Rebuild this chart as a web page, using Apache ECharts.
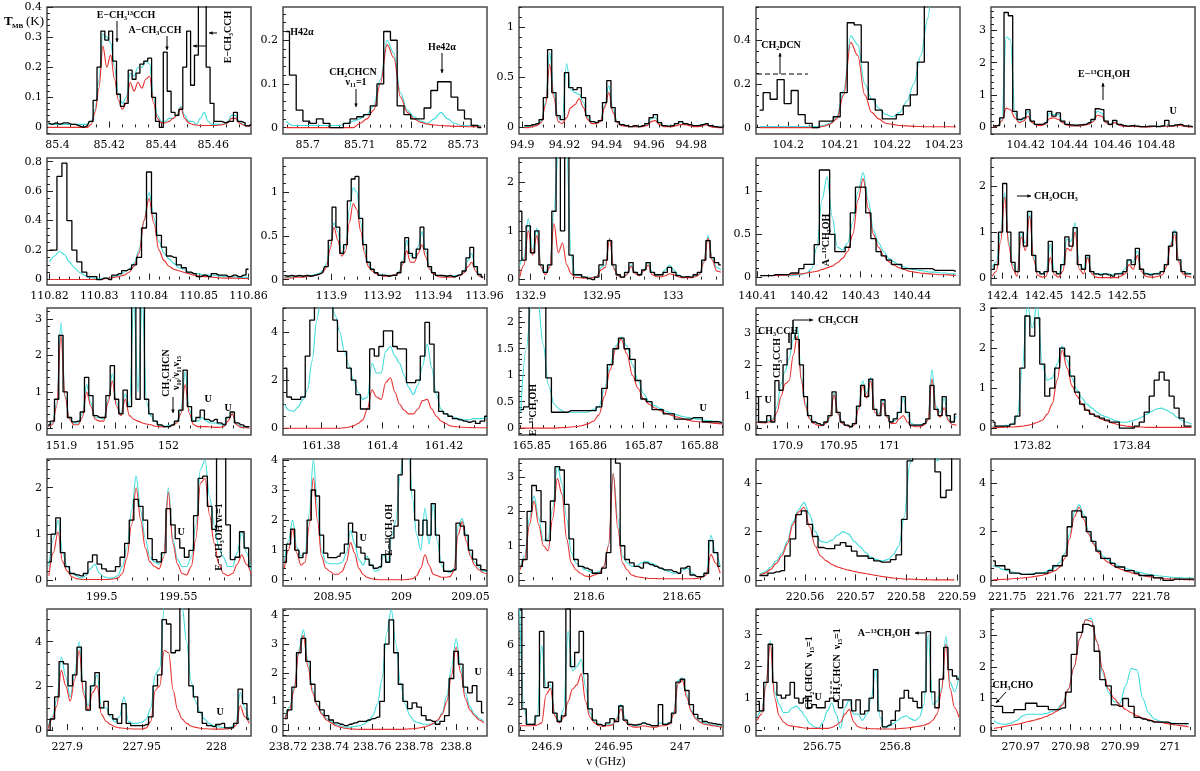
<!DOCTYPE html>
<html>
<head>
<meta charset="utf-8">
<script src="https://cdn.jsdelivr.net/npm/echarts@6/dist/echarts.min.js"></script>
<style>
  html, body { margin: 0; padding: 0; background: #fff; }
  #chart { width: 1200px; height: 771px; }
</style>
</head>
<body>
<div id="chart"></div>
<script>
// channel grids: [first channel frequency (GHz), channel step (GHz)]
// obs = observed spectrum (black), cyan = full model, red = single-species model
const freq1 = [85.3965, 0.0015];
const obs1 = [.015,.01,.015,.01,.015,.015,.01,.01,.005,0,.005,.02,.09,.2,.32,.29,.32,.22,.11,.07,.08,.19,.16,.18,.21,.22,.23,.1,.02,0,.25,.12,.05,.04,.06,.2,.32,.14,.24,.45,.45,.2,.08,.02,.02,.015,.02,.02,.05,.02,.015,.005,.01];
const cyan1 = [.01,.01,.01,.01,.01,.01,.01,.01,.01,.01,.01,.02,.06,.16,.31,.3,.28,.2,.11,.08,.1,.18,.17,.2,.2,.22,.21,.1,.04,.02,.02,.03,.03,.04,.07,.04,.02,.02,.01,.03,.05,.02,.01,.01,.01,.01,.02,.04,.04,.02,.01,.005,.005];
const red1 = [0,0,0,0,0,0,0,0,0,0,0,.01,.05,.13,.27,.2,.24,.16,.09,.06,.08,.15,.12,.15,.13,.16,.17,.08,.03,.015,.015,.02,.03,.04,.065,.03,.015,.01,.008,.006,.006,.006,.006,.006,.008,.01,.015,.03,.03,.015,.008,.005,.005];
const xt1 = [85.4,85.42,85.44,85.46], yt1 = [0,0.1,0.2,0.3,0.4];

const freq2 = [85.6958, 0.0013];
const obs2 = [.22,.12,.04,.015,.01,.02,.01,0,0,.01,.02,.025,.03,.05,.1,.22,.2,.05,.03,.02,.02,.045,.085,.105,.105,.07,.04,.02,.005,0];
const cyan2 = [.015,.005,.005,.005,.005,.005,.005,.005,.005,.01,.015,.02,.03,.05,.11,.2,.17,.08,.04,.025,.015,.01,.02,.035,.02,.01,.005,.005,.005,.005];
const red2 = [0,0,0,0,0,0,0,0,0,0,0,.01,.02,.04,.1,.19,.16,.07,.035,.02,.012,.008,.006,.005,.004,.003,.003,.002,.002,.002];
const xt2 = [85.7,85.71,85.72,85.73], yt2 = [0,0.1,0.2];

const freq3 = [94.901, 0.002];
const obs3 = [.02,.02,.03,.04,.08,.3,.78,.35,.12,.08,.55,.4,.38,.4,.3,.12,.06,.05,.07,.25,.47,.2,.06,.03,.02,.01,.02,.01,.02,.04,.1,.13,.05,.02,.015,.02,.04,.06,.04,.03,.02,.02,.03,.04,.02,.01,.005,.005];
const cyan3 = [.01,.01,.02,.03,.07,.25,.75,.35,.1,.08,.64,.38,.35,.33,.25,.1,.06,.05,.07,.22,.42,.18,.06,.03,.02,.01,.01,.01,.015,.03,.09,.1,.05,.02,.01,.02,.04,.06,.04,.03,.02,.02,.03,.04,.02,.01,.005,.005];
const red3 = [0,0,.01,.02,.05,.22,.63,.3,.06,.04,.1,.2,.23,.29,.2,.08,.04,.04,.06,.2,.35,.15,.05,.02,.015,.01,.01,.01,.01,.02,.06,.07,.03,.01,.01,.01,.02,.03,.03,.02,.01,.01,.015,.03,.01,.005,0,0];
const xt3 = [94.9,94.92,94.94,94.96,94.98], yt3 = [0,0.5,1];

const freq4 = [104.1945, 0.00135];
const obs4 = [.08,.16,.13,.22,.11,.17,.06,.02,0,.03,.03,.05,.16,.48,.47,.3,.13,.08,.04,.04,.06,.1,.15,.3,.6,.8,.8,.8,.8];
const cyan4 = [.005,.005,.005,.005,.005,.005,.005,.005,.005,.01,.02,.05,.17,.42,.38,.2,.13,.09,.06,.05,.07,.12,.2,.33,.5,.8,.8,.8,.8];
const red4 = [0,0,0,0,0,0,0,0,0,.005,.015,.04,.15,.39,.33,.15,.07,.04,.02,.015,.01,.008,.006,.005,.004,.004,.004,.004,.004];
const xt4 = [104.2,104.21,104.22,104.23], yt4 = [0,0.2,0.4];

const freq5 = [104.405, 0.002];
const obs5 = [.05,.06,.3,3.55,3.45,.5,.25,.3,.55,.2,.1,.1,.15,.5,.35,.45,.2,.1,.08,.07,.08,.1,.15,.25,.58,.55,.2,.1,.22,.1,.06,.04,.06,.04,.03,.03,.04,.04,.03,.05,.22,.05,.08,.1,.05,.04,.03];
const cyan5 = [.03,.05,.3,2.8,2.7,.45,.2,.25,.5,.18,.09,.08,.12,.45,.4,.4,.18,.08,.06,.05,.06,.08,.12,.22,.5,.45,.18,.1,.18,.08,.05,.04,.05,.04,.03,.03,.03,.04,.04,.05,.05,.05,.07,.09,.05,.03,.02];
const red5 = [.02,.05,.2,.6,.55,.3,.15,.2,.35,.15,.07,.06,.1,.28,.3,.25,.15,.07,.05,.05,.05,.07,.1,.18,.38,.35,.15,.08,.15,.07,.04,.03,.04,.03,.02,.02,.02,.03,.03,.04,.04,.04,.05,.07,.04,.02,.02];
const xt5 = [104.42,104.44,104.46,104.48], yt5 = [0,1,2,3];

const freq6 = [110.820, 0.001];
const obs6 = [.2,.2,.7,.79,.4,.2,.12,.05,.02,.02,0,.01,0,.03,.04,.06,.07,.1,.15,.35,.73,.45,.3,.22,.16,.15,.1,.08,.05,.04,.02,.03,.02,.04,.03,.03,.02,.03,.02,.03,.07];
const cyan6 = [.12,.16,.19,.17,.12,.08,.05,.03,.015,.01,.005,.01,.01,.02,.03,.05,.07,.11,.2,.4,.59,.42,.26,.18,.14,.11,.08,.07,.05,.04,.04,.03,.03,.03,.025,.02,.02,.02,.015,.015,.015];
const red6 = [0,0,0,0,0,0,0,0,0,0,0,.005,.01,.015,.02,.03,.05,.09,.18,.4,.55,.38,.2,.13,.09,.07,.06,.05,.04,.03,.025,.02,.02,.015,.012,.01,.01,.01,.008,.007,.006];
const xt6 = [110.82,110.83,110.84,110.85,110.86], yt6 = [0,0.2,0.4,0.6,0.8];

const freq7 = [113.8815, 0.0015];
const obs7 = [.05,.04,.05,.04,.05,.04,.05,.04,.05,.06,.08,.15,.45,.83,.6,.3,.4,.9,1.15,1.18,.7,.4,.2,.12,.08,.05,.05,.04,.05,.05,.08,.2,.48,.3,.25,.35,.6,.35,.15,.08,.05,.05,.04,.05,.03,.05,.06,.1,.25,.37,.15,.06,.03];
const cyan7 = [.03,.03,.03,.04,.04,.04,.05,.05,.06,.07,.1,.18,.4,.65,.55,.3,.38,.8,1.05,1.0,.65,.35,.18,.12,.08,.06,.05,.05,.05,.06,.09,.22,.45,.28,.25,.38,.55,.32,.14,.08,.05,.04,.04,.04,.04,.05,.06,.1,.22,.3,.14,.06,.03];
const red7 = [.02,.02,.02,.03,.03,.03,.04,.04,.05,.06,.08,.14,.35,.6,.45,.27,.32,.65,.87,.8,.55,.3,.15,.1,.07,.05,.04,.04,.05,.06,.08,.18,.33,.2,.2,.3,.4,.26,.12,.07,.04,.03,.03,.03,.03,.04,.05,.08,.15,.2,.1,.04,.02];
const xt7 = [113.9,113.92,113.94,113.96], yt7 = [0,0.5,1];

const freq8 = [132.8925, 0.003];
const obs8 = [1.4,.4,1.1,.55,1.0,.3,.15,.3,1.4,2.6,1.0,2.6,.5,.1,.1,.05,.02,0,.05,.3,.4,.8,.3,.1,.05,.15,.35,.15,.1,.2,.35,.15,.1,.1,.15,.25,.15,.08,.05,.06,.05,.1,.15,.4,.8,.45,.35,.3];
const cyan8 = [.3,.45,1.25,.6,1.05,.3,.15,.3,1.4,2.6,2.6,2.6,.5,.1,.08,.05,.05,.05,.07,.25,.3,.85,.25,.1,.05,.12,.3,.15,.1,.2,.35,.15,.08,.1,.2,.3,.2,.1,.06,.05,.05,.08,.12,.4,.9,.45,.25,.2];
const red8 = [.05,.3,1.0,.5,.9,.25,.1,.25,1.15,.55,.75,.3,.12,.05,.04,.03,.03,.04,.06,.2,.25,.83,.22,.08,.04,.1,.27,.12,.08,.18,.3,.1,.06,.06,.08,.12,.1,.06,.04,.04,.04,.06,.1,.35,.85,.4,.18,.15];
const xt8 = [132.9,132.95,133], yt8 = [0,1,2];

const freq9 = [140.4105, 0.001];
const obs9 = [.02,.02,.02,.03,.03,.03,.05,.05,.1,.15,.15,.38,1.25,1.25,.5,.3,.3,.35,.75,1.05,1.05,.75,.45,.3,.25,.2,.15,.15,.1,.1,.1,.1,.1,.1,.08,.08,.08,.08,.07];
const cyan9 = [.02,.02,.02,.02,.02,.02,.02,.025,.03,.05,.1,.35,.9,1.17,.7,.35,.32,.4,.65,1.0,1.22,.9,.55,.4,.3,.22,.18,.14,.12,.1,.09,.08,.07,.06,.06,.05,.05,.04,.04];
const red9 = [.02,.02,.02,.02,.025,.025,.03,.035,.04,.05,.06,.07,.09,.11,.13,.17,.22,.3,.5,.9,1.15,.8,.5,.35,.25,.18,.14,.11,.09,.07,.06,.05,.045,.04,.035,.03,.03,.025,.02];
const xt9 = [140.41,140.42,140.43,140.44], yt9 = [0,0.5,1];

const freq10 = [142.3875, 0.005];
const obs10 = [.2,.3,1.0,2.05,1.0,.35,.15,1.0,.7,1.45,.5,.15,.1,.15,.8,.15,.1,.3,.9,.7,1.1,.3,.2,.5,.15,.1,.08,.1,.08,.05,.1,.1,.15,.4,.3,.65,.2,.1,.08,.1,.1,.15,.3,.7,1.0,.4,.15,.1,.1];
const cyan10 = [.25,.35,1.0,1.85,.8,.3,.15,1.0,.75,1.45,.5,.15,.1,.15,.75,.15,.1,.3,.85,.8,1.2,.3,.2,.5,.15,.1,.1,.1,.1,.08,.1,.12,.2,.4,.35,.6,.2,.12,.1,.1,.12,.15,.3,.75,1.05,.4,.15,.12,.1];
const red10 = [.05,.15,.8,1.75,.7,.2,.05,.9,.6,1.35,.4,.07,.03,.05,.45,.08,.03,.15,.65,.6,1.0,.2,.1,.45,.1,.03,.02,.02,.02,.02,.02,.05,.1,.3,.2,.5,.15,.05,.03,.03,.05,.08,.25,.7,.95,.35,.1,.05,.03];
const xt10 = [142.4,142.45,142.5,142.55], yt10 = [0,1,2];

const freq11 = [151.8875, 0.004];
const obs11 = [.1,.2,.8,2.55,1.0,.3,.18,.2,.45,1.4,.9,.35,.3,.3,.9,1.72,.8,.4,1.05,.6,3.5,.8,3.5,.8,.4,.2,.1,.05,.05,.1,.2,.5,1.6,.6,.2,.3,.5,.25,.2,.25,.15,.1,.3,.45,.15,.1,.05,.05];
const cyan11 = [.05,.15,.7,2.9,.9,.3,.15,.15,.4,1.2,.7,.3,.3,.25,.8,1.5,.7,.4,.95,.6,3.5,1.0,3.5,.7,.35,.2,.1,.05,.08,.1,.2,.5,1.55,.5,.2,.2,.3,.2,.15,.15,.12,.1,.3,.4,.15,.05,.03,.02];
const red11 = [.05,.1,.6,2.55,.85,.25,.1,.1,.3,1.0,.6,.25,.2,.2,.7,1.3,.6,.35,.8,.35,.25,.2,.15,.12,.1,.06,.05,.04,.05,.08,.15,.4,1.2,.4,.1,.05,.05,.05,.04,.03,.03,.05,.2,.4,.1,.03,.02,.01];
const xt11 = [151.9,151.95,152], yt11 = [0,1,2,3];

const freq12 = [161.368, 0.0015];
const obs12 = [2.5,1.3,1.2,1.2,1.3,3.0,4.5,5.5,5.5,5.5,5.5,4.5,3.2,3.2,2.5,2.0,1.4,.8,.8,3.3,3.0,3.4,4.05,4.05,3.4,3.3,3.3,1.9,1.9,2.0,3.0,4.4,3.5,1.5,.7,.6,.5,.4,.35,.3,.25,.3,.2,.3,.5];
const cyan12 = [1.0,.75,.7,.9,1.2,1.6,2.8,4.5,5.5,5.5,5.3,4.7,4.0,3.2,2.6,2.0,1.5,1.2,1.3,2.7,2.3,2.3,3.2,3.4,3.0,2.7,2.2,1.7,1.4,1.8,2.6,3.5,2.5,1.4,.8,.6,.5,.45,.4,.35,.35,.4,.4,.4,.45];
const red12 = [0,0,0,0,0,0,0,0,0,0,0,0,0,.02,.05,.1,.2,.35,.8,1.6,1.3,1.2,1.9,2.1,1.5,1.0,.75,.6,.6,.8,1.15,1.2,.8,.5,.3,.2,.1,.07,.05,.04,.03,.02,.02,.02,.02];
const xt12 = [161.38,161.4,161.42], yt12 = [0,2,4];

const freq13 = [165.848, 0.001];
const obs13 = [.35,.4,2.5,2.5,2.5,.95,.3,.3,.3,.33,.33,.33,.33,.33,.4,.75,1.2,1.5,1.7,1.5,1.3,.9,.55,.5,.35,.35,.27,.27,.17,.17,.17,.2,.2,.12,.12,.12,.1];
const cyan13 = [.3,1.5,2.5,2.5,1.6,.8,.45,.35,.3,.3,.3,.3,.3,.35,.4,.75,1.2,1.55,1.72,1.55,1.2,.9,.65,.5,.42,.37,.32,.28,.25,.22,.2,.18,.17,.15,.14,.13,.12];
const red13 = [0,0,0,0,0,0,0,.01,.01,.02,.03,.05,.08,.13,.25,.6,1.1,1.5,1.68,1.4,1.0,.75,.55,.45,.38,.33,.28,.24,.21,.18,.15,.13,.12,.11,.1,.09,.08];
const xt13 = [165.85,165.86,165.87,165.88], yt13 = [0,0.5,1,1.5,2];

const freq14 = [170.8695, 0.004];
const obs14 = [1.0,.2,.2,.4,.2,1.5,1.2,2.0,2.5,3.0,2.8,2.0,1.0,.4,.2,.15,.1,.2,.4,1.15,.5,.2,.1,.05,.15,.7,1.35,1.0,1.55,.6,.4,.9,.4,.2,.3,.5,1.0,.5,.1,.1,.1,.15,.3,1.35,.6,.4,1.0,.4,.2,.45];
const cyan14 = [.25,.2,.2,.25,.3,.7,1.4,1.8,2.2,2.8,3.2,1.6,.8,.35,.2,.15,.1,.2,.4,1.1,.5,.2,.1,.05,.15,.7,1.5,1.1,1.6,.6,.45,.9,.4,.2,.25,.5,.95,.45,.15,.1,.1,.15,.3,1.85,.7,.5,.95,.3,.2,.4];
const red14 = [.2,.18,.17,.2,.25,.5,1.0,1.4,1.5,2.3,2.9,1.5,.7,.3,.15,.1,.08,.15,.35,1.05,.45,.15,.08,.05,.1,.6,1.35,.95,1.5,.5,.4,.8,.35,.15,.15,.3,.4,.2,.08,.05,.05,.1,.25,1.55,.6,.35,.65,.25,.12,.1];
const xt14 = [170.9,170.95,171], yt14 = [0,1,2,3];

const freq15 = [173.812, 0.001];
const obs15 = [.15,.05,.05,.05,.1,.3,1.5,2.8,2.3,2.75,1.6,.8,1.0,1.5,2.0,1.8,1.3,.9,.6,.45,.35,.3,.25,.2,.15,.15,0,0,0,.05,.15,.4,.8,1.2,1.4,1.2,.8,.5,.25,.05,.05];
const cyan15 = [.05,.05,.06,.07,.1,.3,1.5,3.1,2.5,3.1,1.6,1.2,1.25,1.6,2.05,1.7,1.25,.95,.75,.6,.5,.4,.32,.28,.22,.18,.15,.15,.18,.22,.28,.35,.42,.48,.5,.45,.38,.28,.2,.15,.1];
const red15 = [.02,.02,.02,.03,.03,.04,.05,.07,.1,.15,.2,.35,.6,1.2,1.95,1.5,1.05,.8,.6,.45,.35,.28,.22,.18,.13,.1,.07,.05,.04,.03,.03,.02,.02,.02,.02,.02,.02,.02,.02,.02,.02];
const xt15 = [173.82,173.84], yt15 = [0,1,2,3];

const freq16 = [199.4655, 0.003];
const obs16 = [.4,1.0,1.35,.6,.3,.15,.12,.1,.15,.4,.55,.35,.25,.2,.2,.3,.5,.8,1.3,1.75,1.6,1.3,.9,.45,.4,.6,1.55,1.2,.9,.7,.5,.65,1.4,2.2,2.25,1.6,1.1,2.7,2.7,1.2,.45,.5,1.05,.7,.3];
const cyan16 = [.3,.9,1.3,.6,.3,.15,.1,.05,.1,.25,.35,.15,.08,.05,.05,.1,.3,.7,1.5,2.25,1.5,.9,.5,.4,.35,.6,2.0,.9,.45,.3,.3,.5,1.2,2.4,2.6,1.8,1.2,.7,.5,.3,.3,.6,1.05,.6,.2];
const red16 = [.1,.6,1.05,.4,.2,.08,.04,.02,.02,.02,.02,.02,.02,.02,.03,.05,.15,.5,1.2,2.0,1.3,.7,.4,.3,.25,.5,1.9,.8,.35,.15,.12,.3,.9,2.1,2.2,1.4,.8,.35,.15,.1,.15,.35,.55,.35,.15];
const xt16 = [199.5,199.55], yt16 = [0,1,2];

const freq17 = [208.915, 0.003];
const obs17 = [.6,1.2,1.7,1.0,.75,.9,2.0,3.0,2.8,1.5,.9,.75,.75,.8,.9,1.2,1.9,1.6,1.1,.9,.7,.5,.4,.45,.85,.6,1.4,1.8,3.5,4.5,4.5,3.0,2.0,1.5,2.0,1.5,2.55,1.5,.6,.3,.3,.35,1.9,1.8,1.5,1.0,.7,.5,.35,.3];
const cyan17 = [.6,1.3,2.0,1.1,.8,.9,2.2,4.0,2.5,1.0,.6,.55,.55,.55,.6,.9,1.65,1.2,.7,.5,.8,.5,.3,.35,.85,.6,1.5,2.0,3.5,4.5,4.5,2.7,1.5,1.0,2.4,1.2,2.55,1.3,.5,.3,.25,.4,1.8,2.05,1.5,.9,.6,.45,.3,.3];
const red17 = [.4,1.0,1.7,.9,.5,.6,1.8,3.4,2.0,.8,.4,.3,.2,.2,.3,.6,1.25,.9,.4,.2,.1,.05,.03,.02,.02,.02,.02,.02,.02,.02,.03,.05,.15,.4,.85,.5,.2,.15,.1,.1,.12,.3,1.5,1.95,1.3,.8,.5,.35,.25,.2];
const xt17 = [208.95,209,209.05], yt17 = [0,1,2,3,4];

const freq18 = [218.563, 0.0025];
const obs18 = [.4,.6,2.0,2.75,2.6,1.7,1.15,2.3,3.3,3.2,2.2,1.2,.6,.4,.35,.3,.2,.2,.35,.8,3.65,3.4,1.0,.6,.5,.4,.35,.5,.45,.4,.35,.3,.3,.25,.2,.35,.4,.15,.1,.1,.2,1.15,.8,.4];
const cyan18 = [.35,.7,1.8,2.45,1.8,1.15,1.2,2.1,3.3,2.8,1.8,.8,.5,.4,.3,.25,.2,.25,.4,1.0,3.1,1.8,.7,.5,.4,.4,.5,.55,.5,.45,.35,.3,.25,.2,.2,.3,.35,.2,.1,.1,.2,1.3,.8,.4];
const red18 = [.3,.6,1.6,2.3,1.6,1.0,.85,1.8,2.95,2.5,1.2,.5,.3,.2,.12,.1,.15,.2,.4,1.0,3.1,1.5,.5,.3,.15,.1,.08,.06,.05,.05,.04,.04,.04,.04,.04,.04,.04,.04,.05,.08,.15,.75,.5,.2];
const xt18 = [218.6,218.65], yt18 = [0,1,2,3];

const freq19 = [220.551, 0.0011];
const obs19 = [.2,.2,.3,.35,.4,1.0,1.7,2.7,2.85,2.3,1.8,1.35,1.3,1.3,1.45,1.55,1.4,1.2,1.0,1.0,.9,.8,.75,.75,.85,1.05,2.5,4.9,5.5,5.5,5.5,5.5,4.45,3.4,3.7,5.5];
const cyan19 = [.25,.35,.55,.8,1.1,1.6,2.4,2.9,3.2,2.7,2.0,1.6,1.55,1.65,1.85,2.0,1.9,1.6,1.4,1.15,.95,.85,.8,.85,1.05,1.4,2.6,4.8,5.5,5.5,5.5,5.3,4.9,5.5,5.5,5.5];
const red19 = [.2,.3,.45,.7,1.0,1.5,2.3,2.8,3.0,2.2,1.4,1.0,.8,.65,.55,.48,.42,.37,.32,.28,.24,.2,.16,.13,.1,.08,.06,.05,.04,.03,.03,.02,.02,.02,.02,.02];
const xt19 = [220.56,220.57,220.58,220.59], yt19 = [0,2,4];

const freq20 = [221.747, 0.001];
const obs20 = [.8,.6,.6,.45,.3,.3,.25,.25,.25,.3,.3,.3,.4,.6,.6,1.0,2.2,2.85,2.85,2.6,2.0,1.6,1.2,.9,.9,.7,.55,.55,.4,.4,.3,.2,.2,.2,.1,.1,0,0,.05,.05,.05,.05,.05];
const cyan20 = [.6,.55,.45,.4,.35,.3,.25,.25,.27,.3,.3,.35,.45,.55,.75,1.1,1.9,2.8,3.1,2.7,2.0,1.55,1.25,1.0,.85,.72,.62,.55,.48,.42,.36,.32,.27,.23,.2,.18,.16,.14,.12,.11,.1,.1,.1];
const red20 = [.02,.03,.04,.05,.07,.08,.1,.12,.14,.17,.2,.25,.32,.4,.55,.9,1.7,2.6,3.0,2.5,1.9,1.5,1.15,.9,.75,.62,.52,.44,.37,.31,.26,.21,.17,.14,.11,.09,.07,.06,.05,.04,.03,.03,.02];
const xt20 = [221.75,221.76,221.77,221.78], yt20 = [0,2,4];

const freq21 = [227.887, 0.003];
const obs21 = [0,.5,1.5,3.1,3.0,2.0,2.5,3.75,2.2,.9,2.0,2.6,1.0,1.3,.7,.5,.3,1.2,.3,.2,.2,.2,.25,.6,2.0,2.5,5.0,4.8,3.5,3.6,5.6,5.6,2.0,1.5,.8,.3,.2,.15,.25,.3,.1,.1,.3,1.85,1.2,.5];
const cyan21 = [.1,.6,1.4,3.3,2.4,1.5,2.6,4.0,1.8,1.1,2.0,2.5,1.0,1.0,.6,.35,.6,1.5,.4,.3,.3,.35,.5,1.0,2.5,2.8,5.6,5.6,5.6,5.6,5.6,4.0,2.2,1.3,.8,.5,.3,.2,.15,.12,.1,.15,.3,1.7,1.0,.4];
const red21 = [.05,.5,1.1,2.7,2.0,1.3,2.3,3.6,1.6,.9,1.7,2.0,.7,.4,.25,.15,.1,.08,.06,.05,.05,.05,.1,.4,1.8,2.0,3.6,3.5,1.8,.9,.5,.3,.18,.12,.08,.06,.05,.04,.04,.04,.05,.08,.2,1.1,.6,.3];
const xt21 = [227.9,227.95,228], yt21 = [0,2,4];

const freq22 = [238.7185, 0.0022];
const obs22 = [.4,.7,1.5,2.7,3.2,2.4,1.6,1.0,.7,.5,.35,.25,.2,.15,.2,.25,.3,.3,.35,.4,.45,1.0,3.0,3.85,2.7,1.6,1.0,.75,.95,.8,.5,.35,.3,.2,.3,.5,1.8,2.75,2.3,1.5,1.3,1.55,1.0,.6];
const cyan22 = [.45,.8,1.5,2.8,3.5,2.4,1.4,.9,.6,.4,.3,.2,.15,.1,.1,.12,.15,.2,.3,.5,.9,1.8,3.4,4.2,3.0,1.6,.9,.5,.3,.25,.2,.2,.2,.3,.6,1.2,2.2,3.2,2.2,1.3,.8,.55,.4,.3];
const red22 = [.4,.7,1.4,2.7,3.3,2.2,1.3,.85,.55,.35,.25,.15,.1,.06,.04,.03,.02,.02,.02,.02,.02,.02,.02,.02,.02,.02,.03,.04,.05,.07,.1,.15,.22,.35,.55,1.0,1.9,2.9,2.0,1.1,.7,.5,.35,.25];
const xt22 = [238.72,238.74,238.76,238.78,238.8], yt22 = [0,1,2,3,4];

const freq23 = [246.8795, 0.0033];
const obs23 = [8.6,1.5,.4,.4,1.0,7.0,3.0,3.4,1.2,.6,1.0,8.6,4.5,5.5,7.0,4.0,1.5,.7,.4,.3,.5,.8,.6,1.7,.7,.4,.35,.4,.5,.4,.3,.3,1.8,.4,.5,1.2,3.4,3.6,2.8,1.8,1.1,.8,.6,.5,.45,.4,.35];
const cyan23 = [8.6,1.5,.4,.4,1.0,6.0,3.0,3.2,1.2,.6,1.5,7.0,4.2,4.5,5.0,3.0,1.2,.6,.4,.3,.4,.4,.8,1.8,.8,.4,.3,.3,.5,.4,.3,.3,.5,.4,.5,1.3,3.5,3.7,2.5,1.4,.9,.6,.5,.4,.35,.3,.3];
const red23 = [.3,.3,.3,.3,.35,.5,2.5,2.95,1.0,.5,.9,2.0,2.9,3.2,4.0,2.0,.9,.5,.3,.25,.3,.35,.7,1.5,.6,.3,.2,.2,.3,.25,.2,.2,.3,.3,.4,1.1,3.3,3.5,2.3,1.3,.8,.55,.4,.35,.3,.25,.2];
const xt23 = [246.9,246.95,247], yt23 = [0,2,4,6,8];

const freq24 = [256.7055, 0.003];
const obs24 = [.9,.6,1.5,2.7,1.5,1.1,1.0,1.1,1.5,1.0,.85,1.0,.7,.8,.7,.7,.9,1.0,.9,.7,.95,.95,.6,.95,.5,.6,1.0,1.9,.6,.1,.15,.3,.6,1.0,1.25,1.0,.9,.7,1.2,3.1,1.2,.7,1.6,2.6,1.9,1.7,1.6];
const cyan24 = [.4,.6,1.5,2.8,1.2,.8,.55,.55,.7,.75,.6,.4,.2,.1,.05,.25,.6,.85,.5,.05,.7,.95,.5,.5,.3,.5,1.0,1.9,.4,.05,.1,.2,.3,.4,.45,.35,.3,.4,.8,3.0,.8,.9,1.3,2.95,1.5,1.2,1.7];
const red24 = [.3,.5,1.4,2.7,1.0,.45,.25,.15,.12,.1,.08,.06,.05,.05,.05,.05,.05,.08,.15,.25,.5,.65,.25,.1,.06,.05,.04,.04,.03,.03,.03,.03,.04,.05,.06,.08,.1,.12,.15,.2,.3,.5,1.2,2.7,1.3,.7,.4];
const xt24 = [256.75,256.8], yt24 = [0,1,2,3];

const freq25 = [270.9646, 0.00115];
const obs25 = [.75,.75,.55,.55,.65,.65,.85,.85,.75,.75,.65,.65,.7,1.2,2.4,3.1,3.35,3.3,2.5,1.6,1.4,.8,.75,1.0,.75,.4,.35,.3,.25,.25,.25,.2,.2,.2,.2];
const cyan25 = [.3,.2,.18,.22,.3,.45,.5,.5,.5,.52,.58,.65,.85,1.3,2.0,2.9,3.5,3.55,2.8,1.8,1.2,.9,.85,1.4,1.95,1.9,1.0,.55,.35,.28,.25,.22,.2,.2,.2];
const red25 = [.05,.08,.12,.15,.18,.22,.27,.31,.36,.42,.5,.6,.8,1.3,2.0,2.9,3.5,3.45,2.8,1.9,1.3,1.0,.8,.65,.55,.45,.38,.33,.28,.25,.21,.18,.15,.13,.1];
const xt25 = [270.97,270.98,270.99,271], yt25 = [0,1,2,3];

// panel table: data + axis ranges and minor tick steps
const panels = [
  {f: freq1, o: obs1, c: cyan1, r: red1, x: [85.396, 85.4745], y: [-0.022, 0.4], xt: xt1, yt: yt1, xm: 0.005, ym: 0.02},
  {f: freq2, o: obs2, c: cyan2, r: red2, x: [85.6952, 85.7346], y: [-0.0145, 0.276], xt: xt2, yt: yt2, xm: 0.002, ym: 0.02},
  {f: freq3, o: obs3, c: cyan3, r: red3, x: [94.8985, 94.995], y: [-0.064, 1.205], xt: xt3, yt: yt3, xm: 0.005, ym: 0.1},
  {f: freq4, o: obs4, c: cyan4, r: red4, x: [104.1938, 104.2331], y: [-0.029, 0.552], xt: xt4, yt: yt4, xm: 0.002, ym: 0.05},
  {f: freq5, o: obs5, c: cyan5, r: red5, x: [104.404, 104.498], y: [-0.2, 3.72], xt: xt5, yt: yt5, xm: 0.005, ym: 0.2},
  {f: freq6, o: obs6, c: cyan6, r: red6, x: [110.8195, 110.8605], y: [-0.037, 0.825], xt: xt6, yt: yt6, xm: 0.002, ym: 0.05},
  {f: freq7, o: obs7, c: cyan7, r: red7, x: [113.881, 113.961], y: [-0.06, 1.39], xt: xt7, yt: yt7, xm: 0.005, ym: 0.1},
  {f: freq8, o: obs8, c: cyan8, r: red8, x: [132.892, 133.035], y: [-0.11, 2.49], xt: xt8, yt: yt8, xm: 0.01, ym: 0.2},
  {f: freq9, o: obs9, c: cyan9, r: red9, x: [140.4097, 140.4493], y: [-0.09, 1.39], xt: xt9, yt: yt9, xm: 0.002, ym: 0.1},
  {f: freq10, o: obs10, c: cyan10, r: red10, x: [142.386, 142.632], y: [-0.14, 2.6], xt: xt10, yt: yt10, xm: 0.01, ym: 0.2},
  {f: freq11, o: obs11, c: cyan11, r: red11, x: [151.8865, 152.077], y: [-0.18, 3.3], xt: xt11, yt: yt11, xm: 0.01, ym: 0.2},
  {f: freq12, o: obs12, c: cyan12, r: red12, x: [161.3675, 161.434], y: [-0.28, 5.0], xt: xt12, yt: yt12, xm: 0.005, ym: 0.5},
  {f: freq13, o: obs13, c: cyan13, r: red13, x: [165.8477, 165.8842], y: [-0.13, 2.27], xt: xt13, yt: yt13, xm: 0.002, ym: 0.1},
  {f: freq14, o: obs14, c: cyan14, r: red14, x: [170.869, 171.069], y: [-0.21, 3.79], xt: xt14, yt: yt14, xm: 0.01, ym: 0.2},
  {f: freq15, o: obs15, c: cyan15, r: red15, x: [173.8117, 173.8527], y: [-0.17, 3.0], xt: xt15, yt: yt15, xm: 0.005, ym: 0.2},
  {f: freq16, o: obs16, c: cyan16, r: red16, x: [199.4643, 199.5975], y: [-0.12, 2.62], xt: xt16, yt: yt16, xm: 0.01, ym: 0.2},
  {f: freq17, o: obs17, c: cyan17, r: red17, x: [208.914, 209.062], y: [-0.19, 4.03], xt: xt17, yt: yt17, xm: 0.01, ym: 0.2},
  {f: freq18, o: obs18, c: cyan18, r: red18, x: [218.5624, 218.672], y: [-0.17, 3.52], xt: xt18, yt: yt18, xm: 0.01, ym: 0.2},
  {f: freq19, o: obs19, c: cyan19, r: red19, x: [220.5503, 220.5906], y: [-0.23, 4.98], xt: xt19, yt: yt19, xm: 0.002, ym: 0.5},
  {f: freq20, o: obs20, c: cyan20, r: red20, x: [221.7466, 221.7892], y: [-0.23, 4.98], xt: xt20, yt: yt20, xm: 0.002, ym: 0.5},
  {f: freq21, o: obs21, c: cyan21, r: red21, x: [227.8864, 228.0232], y: [-0.27, 5.48], xt: xt21, yt: yt21, xm: 0.01, ym: 0.5},
  {f: freq22, o: obs22, c: cyan22, r: red22, x: [238.7176, 238.8146], y: [-0.21, 4.23], xt: xt22, yt: yt22, xm: 0.005, ym: 0.2},
  {f: freq23, o: obs23, c: cyan23, r: red23, x: [246.879, 247.032], y: [-0.43, 8.59], xt: xt23, yt: yt23, xm: 0.01, ym: 0.5},
  {f: freq24, o: obs24, c: cyan24, r: red24, x: [256.7047, 256.8442], y: [-0.19, 3.81], xt: xt24, yt: yt24, xm: 0.01, ym: 0.2},
  {f: freq25, o: obs25, c: cyan25, r: red25, x: [270.964, 271.005], y: [-0.19, 3.84], xt: xt25, yt: yt25, xm: 0.002, ym: 0.2}
];

// layout
const colLeft = [47, 283, 519, 756, 991];
const rowTop = [7, 158, 308, 459, 609];
const W = 204, H = 127;
const tickFont = '"DejaVu Serif", serif';
const annFont = 'bold 10px "Liberation Serif", "DejaVu Serif", serif';

function steps(range, step) {
  const out = [];
  for (let k = Math.ceil(range[0] / step - 1e-9); k * step <= range[1] + 1e-9; k++) {
    out.push(+(k * step).toFixed(6));
  }
  return out;
}

const grid = [], xAxis = [], yAxis = [], series = [];
panels.forEach(function (p, k) {
  grid.push({
    left: colLeft[k % 5], top: rowTop[Math.floor(k / 5)], width: W, height: H,
    show: true, borderColor: '#4a4a4a', borderWidth: 1.5, backgroundColor: '#fff'
  });
  const label = {margin: 6, fontFamily: tickFont, fontSize: 11, color: '#000', formatter: v => String(v)};
  // major x (labels) + minor x
  xAxis.push({gridIndex: k, type: 'value', min: p.x[0], max: p.x[1], position: 'bottom',
    axisLine: {show: false}, splitLine: {show: false},
    axisTick: {inside: true, length: 6, customValues: p.xt, lineStyle: {color: '#222'}},
    axisLabel: Object.assign({customValues: p.xt}, label)});
  xAxis.push({gridIndex: k, type: 'value', min: p.x[0], max: p.x[1], position: 'bottom',
    axisLine: {show: false}, splitLine: {show: false}, axisLabel: {show: false},
    axisTick: {inside: true, length: 3, customValues: steps(p.x, p.xm), lineStyle: {color: '#222'}}});
  yAxis.push({gridIndex: k, type: 'value', min: p.y[0], max: p.y[1], position: 'left',
    axisLine: {show: false}, splitLine: {show: false},
    axisTick: {inside: true, length: 6, customValues: p.yt, lineStyle: {color: '#222'}},
    axisLabel: Object.assign({customValues: p.yt}, label, {margin: 5})});
  yAxis.push({gridIndex: k, type: 'value', min: p.y[0], max: p.y[1], position: 'left',
    axisLine: {show: false}, splitLine: {show: false}, axisLabel: {show: false},
    axisTick: {inside: true, length: 3, customValues: steps(p.y, p.ym), lineStyle: {color: '#222'}}});

  const fr = p.o.map((_, i) => +(p.f[0] + i * p.f[1]).toFixed(6));
  const common = {xAxisIndex: 2 * k, yAxisIndex: 2 * k, showSymbol: false, silent: true, clip: true};
  series.push(Object.assign({type: 'line', data: fr.map((f, i) => [f, p.c[i]]), smooth: 0.35, smoothMonotone: 'x',
    lineStyle: {color: '#3fdcdc', width: 1.1}, z: 2}, common));
  series.push(Object.assign({type: 'line', data: fr.map((f, i) => [f, p.r[i]]), smooth: 0.35, smoothMonotone: 'x',
    lineStyle: {color: '#e8302f', width: 1.1}, z: 3}, common));
  series.push(Object.assign({type: 'line', data: fr.map((f, i) => [f, p.o[i]]), step: 'middle',
    lineStyle: {color: '#000', width: 1.3}, z: 4}, common));
});

// annotation helpers (pixel positions)
function txt(x, y, s, o) {
  o = o || {};
  return {type: 'text', x: x, y: y, rotation: o.rot || 0, z: 100,
    style: {text: s, font: o.font || annFont, fill: '#000',
      align: o.align || 'center', verticalAlign: 'middle',
      textAlign: o.align || 'center', textVerticalAlign: 'middle', lineHeight: o.lh || 11}};
}
function seg(x1, y1, x2, y2, o) {
  o = o || {};
  return {type: 'line', z: 100, shape: {x1: x1, y1: y1, x2: x2, y2: y2},
    style: {stroke: '#000', lineWidth: o.w || 1, lineDash: o.dash || null}};
}
function arrow(x1, y1, x2, y2) {
  const a = Math.atan2(y2 - y1, x2 - x1), s = 4;
  const p1 = [x2 - s * Math.cos(a - 0.45), y2 - s * Math.sin(a - 0.45)];
  const p2 = [x2 - s * Math.cos(a + 0.45), y2 - s * Math.sin(a + 0.45)];
  return [seg(x1, y1, x2, y2), {type: 'polygon', z: 100, shape: {points: [[x2, y2], p1, p2]}, style: {fill: '#000'}}];
}
const UP = Math.PI / 2;
const graphic = [].concat(
  [txt(4, 22, 'T', {font: 'bold 13px "Liberation Serif", serif', align: 'left'}),
   txt(12, 26, 'MB', {font: 'bold 7px "Liberation Serif", serif', align: 'left'}),
   txt(26, 22, '(K)', {font: '13px "Liberation Serif", serif', align: 'left'}),
   txt(606, 762, 'ν (GHz)', {font: '12px "Liberation Serif", serif'})],
  // panel 1
  [txt(126, 15, 'E−CH₃¹³CCH'), txt(155, 30, 'A−CH₃CCH'),
   txt(228, 37, 'E−CH₃CCH', {rot: UP})],
  arrow(117, 21, 117, 42), arrow(167, 36, 167, 50), arrow(206, 46, 193, 46), arrow(217, 33, 209, 33),
  // panel 2
  [txt(302, 32, 'H42α'), txt(353, 72, 'CH₂CHCN'), txt(356, 82, 'ν₁₁=1'), txt(442, 47, 'He42α')],
  arrow(356, 89, 356, 107), arrow(442, 53, 442, 73),
  // panel 4
  [txt(781, 45, 'CH₂DCN'), seg(757, 74, 808, 74, {dash: [5, 3]})],
  arrow(780, 74, 780, 53),
  // panel 5
  [txt(1104, 74, 'E−¹³CH₃OH'), txt(1173, 111, 'U')],
  arrow(1103, 100, 1103, 83),
  // panel 9
  [txt(826, 240, 'A−¹³CH₃OH', {rot: UP})],
  // panel 10
  [txt(1034, 196, 'CH₃OCH₃', {align: 'left'})],
  arrow(1017, 196, 1031, 196),
  // panel 11
  [txt(171, 373, 'CH₂CHCN\nν₁₀/ν₁₁ν₁₅', {rot: UP, lh: 10}), txt(208, 399, 'U'), txt(228, 408, 'U')],
  arrow(173, 397, 173, 413),
  // panel 13
  [txt(533, 410, 'E−¹³CH₃OH', {rot: UP}), txt(703, 408, 'U')],
  // panel 14
  [txt(758, 331, 'CH₃CCH', {align: 'left'}), txt(777, 358, 'CH₃CCH', {rot: UP}), txt(768, 400, 'U'),
   seg(789, 333, 789, 343, {w: 1.5}), seg(793, 320, 793, 333, {w: 1.5}),
   txt(818, 320, 'CH₃CCH', {align: 'left'})],
  arrow(793, 320, 813, 320),
  // panel 16, 17
  [txt(181, 532, 'U'), txt(219, 537, 'E−CH₃OH νₜ=1', {rot: UP}),
   txt(363, 538, 'U'), txt(389, 530, 'E−¹³CH₃OH', {rot: UP})],
  // row 5
  [txt(220, 712, 'U'), txt(478, 672, 'U'),
   txt(809, 673, 'CH₂CHCN  ν₁₅=1', {rot: UP}), txt(818, 697, 'U'),
   txt(837, 665, 'CH₂CHCN  ν₁₅=1', {rot: UP}), seg(831, 681, 831, 694, {dash: [3, 2]}),
   txt(884, 633, 'A−¹³CH₃OH'), txt(1013, 685, 'CH₃CHO')],
  arrow(925, 633, 915, 633), arrow(1006, 692, 996, 703)
);

const chart = echarts.init(document.getElementById('chart'), null, {renderer: 'canvas'});
chart.setOption({
  animation: false,
  backgroundColor: '#fff',
  grid: grid, xAxis: xAxis, yAxis: yAxis, series: series,
  graphic: graphic
});
</script>
</body>
</html>
